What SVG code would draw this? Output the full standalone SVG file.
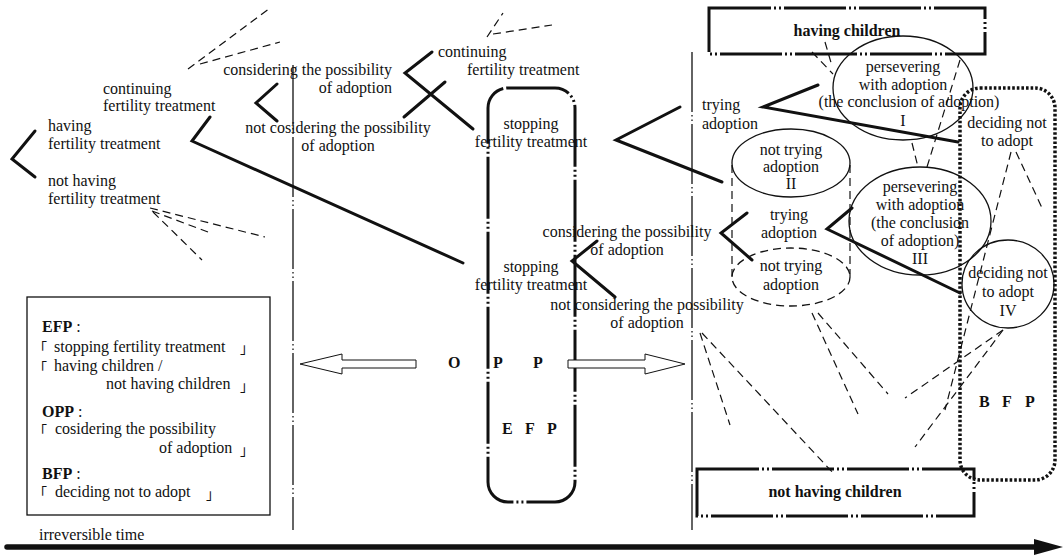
<svg xmlns="http://www.w3.org/2000/svg" width="1064" height="557" viewBox="0 0 1064 557">
<style>
text{font-family:"Liberation Serif","Times New Roman",serif;font-size:16px;fill:#111}
.b{font-weight:bold}
.c{text-anchor:middle}
.e{text-anchor:end}
.thick{stroke:#111;stroke-width:3;fill:none;stroke-linecap:round}
.dash{stroke:#111;stroke-width:1.2;fill:none;stroke-dasharray:8 5}
.axis{stroke:#111;stroke-width:1.3;fill:none;stroke-dasharray:60 3 1.5 3 1.5 3}
.ell{stroke:#111;stroke-width:1.3;fill:none}
.ell-d{stroke:#111;stroke-width:1.3;fill:none;stroke-dasharray:8 5}
.frame{stroke:#111;stroke-width:3;fill:none;stroke-dasharray:62 3 2 3 2 3}
.dots{stroke:#111;stroke-width:3.5;fill:none;stroke-dasharray:2.6 2}
.hollow{fill:#fff;stroke:#111;stroke-width:1}
.cjk{font-family:"Noto Sans CJK JP",sans-serif;font-size:14px}
</style>

<!-- time axes (dash-dot-dot guides) -->
<g id="axes">
  <line class="axis" x1="293" y1="65" x2="293" y2="530"/>
  <line class="axis" x1="692" y1="52" x2="692" y2="530"/>
</g>

<!-- left branch labels -->
<g id="start">
  <text x="48" y="131">having</text>
  <text x="48" y="149">fertility treatment</text>
  <text x="48" y="186">not having</text>
  <text x="48" y="204">fertility treatment</text>
</g>
<g id="continuing-1">
  <text x="103" y="94">continuing</text>
  <text x="103" y="111">fertility treatment</text>
</g>
<g id="opp-1">
  <text class="e" x="392" y="75">considering the possibility</text>
  <text class="e" x="392" y="93">of adoption</text>
  <text class="c" x="338" y="133">not cosidering the possibility</text>
  <text class="c" x="338" y="151">of adoption</text>
</g>
<g id="continuing-2">
  <text x="438" y="57">continuing</text>
  <text x="467" y="75">fertility treatment</text>
</g>

<!-- EFP band -->
<g id="efp">
  <rect class="frame" x="488" y="88" width="87" height="414" rx="20"/>
  <text class="c" x="531" y="129">stopping</text>
  <text class="c" x="531" y="147">fertility treatment</text>
  <text class="c" x="531" y="272">stopping</text>
  <text class="c" x="531" y="290">fertility treatment</text>
  <text class="b" font-size="17" x="448 493 533" y="368">OPP</text>
  <text class="b" font-size="17" x="502 525 547" y="434">EFP</text>
</g>

<g id="opp-2">
  <text class="c" x="627" y="237">considering the possibility</text>
  <text class="c" x="627" y="255">of adoption</text>
  <text class="c" x="647" y="310">not considering the possibility</text>
  <text class="c" x="647" y="328">of adoption</text>
</g>

<g id="trying-1">
  <text x="702" y="110">trying</text>
  <text x="702" y="129">adoption</text>
</g>

<g id="having-children">
  <rect class="frame" x="709" y="8" width="276" height="46"/>
  <text class="b c" font-size="18" x="847" y="36">having children</text>
</g>

<g id="not-having-children">
  <rect class="frame" x="697" y="469" width="277" height="47"/>
  <text class="b c" font-size="18" x="835" y="497">not having children</text>
</g>

<g id="state-I">
  <ellipse class="ell" cx="903" cy="88" rx="70" ry="52"/>
  <text class="c" x="903" y="72">persevering</text>
  <text class="c" x="903" y="90">with adoption</text>
  <text class="c" x="909" y="107">(the conclusion of adoption)</text>
  <text class="c" x="903" y="126">I</text>
</g>

<g id="state-II">
  <ellipse class="ell" cx="791" cy="163" rx="59" ry="34"/>
  <text class="c" x="791" y="155">not trying</text>
  <text class="c" x="791" y="172">adoption</text>
  <text class="c" x="791" y="189">II</text>
</g>

<g id="cylinder">
  <line class="dash" x1="732" y1="165" x2="732" y2="277"/>
  <line class="dash" x1="850" y1="165" x2="850" y2="277"/>
  <ellipse class="ell-d" cx="791" cy="277" rx="59" ry="29"/>
  <text class="c" x="789" y="220">trying</text>
  <text class="c" x="789" y="238">adoption</text>
  <text class="c" x="791" y="271">not trying</text>
  <text class="c" x="791" y="290">adoption</text>
</g>

<g id="state-III">
  <ellipse class="ell" cx="920" cy="221" rx="71" ry="54"/>
  <text class="c" x="920" y="192">persevering</text>
  <text class="c" x="920" y="210">with adoption</text>
  <text class="c" x="920" y="228">(the conclusion</text>
  <text class="c" x="920" y="246">of adoption)</text>
  <text class="c" x="920" y="264">III</text>
</g>

<g id="state-IV">
  <ellipse class="ell" cx="1008" cy="284" rx="46" ry="44"/>
  <text class="c" x="1008" y="278">deciding not</text>
  <text class="c" x="1008" y="297">to adopt</text>
  <text class="c" x="1008" y="316">IV</text>
</g>

<g id="bfp">
  <rect class="dots" x="960" y="88" width="95" height="392" rx="20"/>
  <text class="c" x="1007" y="128">deciding not</text>
  <text class="c" x="1007" y="146">to adopt</text>
  <text class="b" font-size="17" x="979 1002 1025" y="407">BFP</text>
</g>

<!-- legend -->
<g id="legend">
  <rect x="27" y="297" width="243" height="218" fill="none" stroke="#111" stroke-width="1.3"/>
  <text x="42" y="332"><tspan class="b">EFP</tspan> :</text>
  <text class="cjk" x="33" y="353">「</text>
  <text x="54" y="352">stopping fertility treatment</text>
  <text class="cjk" x="240" y="353">」</text>
  <text class="cjk" x="33" y="373">「</text>
  <text x="54" y="371">having children /</text>
  <text x="106" y="389">not having children</text>
  <text class="cjk" x="240" y="391">」</text>
  <text x="42" y="417"><tspan class="b">OPP</tspan> :</text>
  <text class="cjk" x="33" y="436">「</text>
  <text x="55" y="434">cosidering the possibility</text>
  <text x="159" y="453">of adoption</text>
  <text class="cjk" x="240" y="455">」</text>
  <text x="42" y="479"><tspan class="b">BFP</tspan> :</text>
  <text class="cjk" x="33" y="498">「</text>
  <text x="55" y="497">deciding not to adopt</text>
  <text class="cjk" x="206" y="499">」</text>
</g>

<!-- hollow arrows out of the OPP point -->
<g id="arrows">
  <polygon class="hollow" points="300,364 342,354 342,360 416,360 416,368 342,368 342,374"/>
  <polygon class="hollow" points="685,364 645,354 645,360 568,360 568,368 645,368 645,374"/>
</g>

<g id="connectors">
  <!-- branching chevrons -->
  <polyline class="thick" points="35,131 12,159 35,177"/>
  <polyline class="thick" points="210,117 192,141 463,263"/>
  <polyline class="thick" points="277,84 256,103 277,121"/>
  <polyline class="thick" points="432,52 405,73 473,129"/>
  <line class="thick" x1="445" y1="82" x2="404" y2="117"/>
  <polyline class="thick" points="680,107 616,140 722,182"/>
  <polyline class="thick" points="818,85 763,107 958,142"/>
  <polyline class="thick" points="597,241 572,261 615,297"/>
  <polyline class="thick" points="747,213 721,233 752,260"/>
  <polyline class="thick" points="852,208 827,229 960,293"/>

  <!-- dashed influence lines -->
  <line class="dash" x1="188" y1="69" x2="270" y2="8"/>
  <line class="dash" x1="200" y1="64" x2="280" y2="42"/>
  <line class="dash" x1="150" y1="208" x2="265" y2="237"/>
  <line class="dash" x1="152" y1="211" x2="208" y2="232"/>
  <line class="dash" x1="153" y1="212" x2="202" y2="260"/>
  <line class="dash" x1="487" y1="37" x2="503" y2="13"/>
  <line class="dash" x1="493" y1="34" x2="552" y2="25"/>
  <line class="dash" x1="812" y1="52" x2="833" y2="74"/>
  <line class="dash" x1="825" y1="42" x2="832" y2="66"/>
  <line class="dash" x1="912" y1="143" x2="918" y2="167"/>
  <line class="dash" x1="960" y1="60" x2="927" y2="167"/>
  <line class="dash" x1="1016" y1="152" x2="1043" y2="210"/>
  <line class="dash" x1="1011" y1="152" x2="945" y2="410"/>
  <line class="dash" x1="1003" y1="330" x2="915" y2="447"/>
  <line class="dash" x1="1003" y1="330" x2="905" y2="398"/>
  <line class="dash" x1="700" y1="333" x2="730" y2="425"/>
  <line class="dash" x1="702" y1="333" x2="835" y2="475"/>
  <line class="dash" x1="812" y1="313" x2="858" y2="414"/>
  <line class="dash" x1="818" y1="313" x2="888" y2="394"/>
</g>

<!-- irreversible time -->
<g id="time">
  <text x="39" y="540">irreversible time</text>
  <line x1="7" y1="547" x2="1036" y2="547" stroke="#111" stroke-width="5.5" stroke-linecap="round"/>
  <polygon points="1034,539 1063,547 1034,555" fill="#111"/>
</g>
</svg>
